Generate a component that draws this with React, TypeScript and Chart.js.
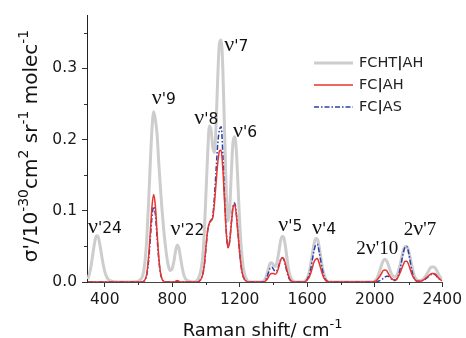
import React, { useEffect, useRef } from "react";
import { Chart, registerables } from "chart.js";

Chart.register(...registerables);

// Raman shift grid (cm-1)
const ramanShift = [
  300, 310, 320, 330, 340, 350, 360, 370, 380, 390, 400, 410, 420, 430, 440,
  480, 520, 560, 600,
  610, 620, 630, 640, 650, 660, 670, 680, 690, 700, 710, 720, 730, 740, 750, 760, 770, 780, 790, 800, 810, 820, 830, 840, 850, 860, 870, 880, 890, 900,
  920, 940,
  950, 960, 970, 980, 990, 1000, 1010, 1020, 1030, 1040, 1050, 1060, 1070, 1080, 1090, 1100, 1110, 1120, 1130, 1140, 1150, 1160, 1170, 1180, 1190, 1200, 1210, 1220, 1230, 1240, 1250, 1260,
  1280, 1300, 1320,
  1330, 1340, 1350, 1360, 1370, 1380, 1390, 1400, 1410, 1420, 1430, 1440, 1450, 1460, 1470, 1480, 1490, 1500, 1510, 1520, 1530,
  1550, 1570,
  1580, 1590, 1600, 1610, 1620, 1630, 1640, 1650, 1660, 1670, 1680, 1690, 1700, 1710, 1720, 1730,
  1760, 1800, 1850, 1900, 1950, 1980,
  1990, 2000, 2010, 2020, 2030, 2040, 2050, 2060, 2070, 2080, 2090, 2100, 2110, 2120, 2130, 2140, 2150, 2160, 2170, 2180,
  2190, 2200, 2210, 2220, 2230, 2240, 2250, 2260, 2270, 2280, 2290, 2300, 2310, 2320, 2330, 2340, 2350, 2360, 2370, 2380, 2390, 2400,
];

// FCHT|AH
const fchtAH = [
  0.004, 0.012, 0.024, 0.040, 0.055, 0.065, 0.064, 0.054, 0.040, 0.026, 0.015, 0.008, 0.004, 0.002, 0.001,
  0, 0, 0, 0.001,
  0.003, 0.006, 0.014, 0.032, 0.065, 0.112, 0.167, 0.215, 0.239, 0.228, 0.208, 0.168, 0.132, 0.100, 0.072, 0.050, 0.032, 0.020, 0.016, 0.019, 0.029, 0.044, 0.052, 0.047, 0.033, 0.019, 0.009, 0.004, 0.002, 0.001,
  0, 0.001,
  0.003, 0.008, 0.017, 0.034, 0.070, 0.125, 0.180, 0.219, 0.214, 0.190, 0.182, 0.222, 0.290, 0.336, 0.340, 0.298, 0.212, 0.128, 0.086, 0.100, 0.152, 0.196, 0.204, 0.184, 0.134, 0.082, 0.045, 0.022, 0.010, 0.004, 0.001, 0,
  0, 0, 0,
  0, 0.001, 0.004, 0.010, 0.019, 0.026, 0.027, 0.024, 0.022, 0.027, 0.040, 0.055, 0.064, 0.063, 0.051, 0.033, 0.017, 0.007, 0.003, 0.001, 0,
  0, 0,
  0, 0.002, 0.005, 0.012, 0.024, 0.039, 0.053, 0.061, 0.060, 0.050, 0.035, 0.020, 0.010, 0.004, 0.001, 0,
  0, 0, 0, 0, 0, 0,
  0, 0.002, 0.004, 0.009, 0.016, 0.024, 0.030, 0.032, 0.030, 0.024, 0.017, 0.011, 0.008, 0.007, 0.009, 0.015, 0.024, 0.035, 0.045, 0.050,
  0.050, 0.044, 0.034, 0.022, 0.012, 0.006, 0.003, 0.002, 0.002, 0.003, 0.005, 0.008, 0.012, 0.016, 0.020, 0.021, 0.021, 0.019, 0.015, 0.010, 0.006, 0.004,
];

// FC|AH
const fcAH = [
  0, 0, 0, 0, 0, 0, 0, 0, 0, 0, 0, 0, 0, 0, 0,
  0, 0, 0, 0,
  0, 0, 0.001, 0.004, 0.013, 0.036, 0.070, 0.106, 0.123, 0.107, 0.070, 0.036, 0.014, 0.004, 0.001, 0, 0, 0, 0, 0, 0, 0.001, 0.002, 0.001, 0, 0, 0, 0, 0, 0,
  0, 0,
  0, 0.001, 0.004, 0.010, 0.024, 0.050, 0.073, 0.083, 0.086, 0.090, 0.110, 0.140, 0.168, 0.184, 0.185, 0.158, 0.113, 0.070, 0.048, 0.056, 0.081, 0.104, 0.109, 0.094, 0.067, 0.040, 0.019, 0.008, 0.003, 0.001, 0, 0,
  0, 0, 0,
  0, 0, 0.001, 0.003, 0.007, 0.011, 0.012, 0.012, 0.011, 0.013, 0.020, 0.029, 0.034, 0.033, 0.026, 0.016, 0.008, 0.003, 0.001, 0, 0,
  0, 0,
  0, 0.001, 0.003, 0.006, 0.012, 0.020, 0.028, 0.032, 0.033, 0.027, 0.019, 0.011, 0.005, 0.002, 0.001, 0,
  0, 0, 0, 0, 0, 0,
  0, 0.001, 0.002, 0.005, 0.008, 0.012, 0.016, 0.017, 0.016, 0.012, 0.008, 0.005, 0.003, 0.003, 0.004, 0.008, 0.013, 0.019, 0.025, 0.029,
  0.029, 0.025, 0.018, 0.011, 0.006, 0.003, 0.001, 0.001, 0.001, 0.002, 0.003, 0.005, 0.007, 0.009, 0.011, 0.012, 0.012, 0.011, 0.008, 0.005, 0.003, 0.002,
];

// FC|AS
const fcAS = [
  0, 0, 0, 0, 0, 0, 0, 0, 0, 0, 0, 0, 0, 0, 0,
  0, 0, 0, 0,
  0, 0, 0.001, 0.003, 0.011, 0.030, 0.060, 0.092, 0.106, 0.095, 0.063, 0.032, 0.012, 0.004, 0.001, 0, 0, 0, 0, 0, 0, 0, 0.001, 0, 0, 0, 0, 0, 0, 0,
  0, 0,
  0, 0.001, 0.004, 0.010, 0.023, 0.048, 0.072, 0.083, 0.087, 0.093, 0.120, 0.158, 0.195, 0.214, 0.218, 0.178, 0.120, 0.072, 0.049, 0.057, 0.083, 0.106, 0.111, 0.096, 0.068, 0.040, 0.019, 0.008, 0.003, 0.001, 0, 0,
  0, 0, 0,
  0, 0, 0.002, 0.006, 0.013, 0.019, 0.021, 0.018, 0.015, 0.016, 0.022, 0.030, 0.034, 0.032, 0.024, 0.014, 0.006, 0.002, 0.001, 0, 0,
  0, 0,
  0, 0.001, 0.004, 0.009, 0.018, 0.031, 0.044, 0.052, 0.053, 0.043, 0.030, 0.017, 0.008, 0.003, 0.001, 0,
  0, 0, 0, 0, 0, 0,
  0, 0, 0, 0.001, 0.002, 0.003, 0.005, 0.007, 0.008, 0.008, 0.006, 0.004, 0.002, 0.002, 0.004, 0.009, 0.018, 0.030, 0.042, 0.049,
  0.050, 0.042, 0.029, 0.016, 0.007, 0.003, 0.001, 0.001, 0.001, 0.002, 0.003, 0.004, 0.006, 0.008, 0.010, 0.011, 0.011, 0.010, 0.007, 0.005, 0.003, 0.002,
];

const seriesNames = ["FCHT|AH", "FC|AH", "FC|AS"];
const xTickValues = [400, 800, 1200, 1600, 2000, 2400];
const xMinorTicks = [600, 1000, 1400, 1800, 2200];
const yTickValues = [0, 0.1, 0.2, 0.3];
const yMinorTicks = [0.05, 0.15, 0.25, 0.35];

// Peak annotations: prefix, suffix, left x (cm-1), baseline y, serif suffix
const peakPrefix = ["", "", "", "", "", "", "", "", "2", "2"];
const peakSuffix = ["'24", "'9", "'22", "'8", "'7", "'6", "'5", "'4", "'10", "'7"];
const peakX = [301, 679, 790, 931, 1108, 1160, 1428, 1628, 1891, 2172];
const peakY = [0.069, 0.25, 0.066, 0.222, 0.324, 0.204, 0.072, 0.067, 0.04, 0.066];

const SANS = '"DejaVu Sans", sans-serif';
const SERIF = '"Liberation Serif", serif';

const overlayPlugin = {
  id: "overlay",
  afterDraw(chart: any) {
    const { ctx, chartArea, scales } = chart;
    const xs = scales.x;
    const ys = scales.y;
    ctx.save();

    // minor ticks
    ctx.strokeStyle = "#333";
    ctx.lineWidth = 1;
    xMinorTicks.forEach((v) => {
      const px = Math.round(xs.getPixelForValue(v)) + 0.5;
      ctx.beginPath();
      ctx.moveTo(px, chartArea.bottom);
      ctx.lineTo(px, chartArea.bottom + 3);
      ctx.stroke();
    });
    yMinorTicks.forEach((v) => {
      const py = Math.round(ys.getPixelForValue(v)) + 0.5;
      ctx.beginPath();
      ctx.moveTo(chartArea.left, py);
      ctx.lineTo(chartArea.left - 3, py);
      ctx.stroke();
    });

    // peak labels
    ctx.fillStyle = "#111";
    ctx.textAlign = "left";
    ctx.textBaseline = "alphabetic";
    peakX.forEach((xv, i) => {
      let cx = xs.getPixelForValue(xv);
      const by = ys.getPixelForValue(peakY[i]);
      const serif = peakPrefix[i] !== "";
      if (serif) {
        ctx.font = `19px ${SERIF}`;
        ctx.fillText(peakPrefix[i], cx, by);
        cx += ctx.measureText(peakPrefix[i]).width;
      }
      ctx.font = `22px ${SERIF}`;
      ctx.fillText("ν", cx, by);
      cx += ctx.measureText("ν").width;
      ctx.font = serif ? `19px ${SERIF}` : `15.5px ${SANS}`;
      ctx.fillText(peakSuffix[i], cx, by);
    });

    // legend
    const ds = chart.data.datasets;
    ds.forEach((d: any, i: number) => {
      const ly = 63 + i * 22;
      ctx.save();
      ctx.strokeStyle = d.borderColor;
      ctx.lineWidth = d.borderWidth;
      ctx.setLineDash(d.borderDash || []);
      ctx.beginPath();
      ctx.moveTo(314, ly);
      ctx.lineTo(353, ly);
      ctx.stroke();
      ctx.restore();
      const parts = String(d.label).split("|");
      let tx = 359;
      ctx.fillStyle = "#222";
      ctx.textBaseline = "middle";
      ctx.font = `14.5px ${SANS}`;
      ctx.fillText(parts[0], tx, ly);
      tx += ctx.measureText(parts[0]).width;
      ctx.font = `bold 14.5px ${SANS}`;
      ctx.fillText("|", tx, ly);
      tx += ctx.measureText("|").width;
      ctx.font = `14.5px ${SANS}`;
      ctx.fillText(parts[1], tx, ly);
    });

    // x title
    ctx.fillStyle = "#111";
    ctx.textBaseline = "alphabetic";
    const xMain = "Raman shift/ cm";
    const xSup = "-1";
    ctx.font = `18px ${SANS}`;
    const w1 = ctx.measureText(xMain).width;
    ctx.font = `13px ${SANS}`;
    const w2 = ctx.measureText(xSup).width;
    const xc = (chartArea.left + chartArea.right) / 2 - 2;
    let sx = xc - (w1 + w2) / 2;
    ctx.font = `18px ${SANS}`;
    ctx.fillText(xMain, sx, 336);
    ctx.font = `13px ${SANS}`;
    ctx.fillText(xSup, sx + w1, 328);

    // y title
    const yParts: [string, boolean][] = [
      ["σ'/10", false], ["-30", true], ["cm", false], ["2", true],
      [" sr", false], ["-1", true], [" molec", false], ["-1", true],
    ];
    const mainFont = `20px ${SANS}`;
    const supFont = `14px ${SANS}`;
    let total = 0;
    yParts.forEach(([t, sup]) => {
      ctx.font = sup ? supFont : mainFont;
      total += ctx.measureText(t).width;
    });
    ctx.translate(37, 146);
    ctx.rotate(-Math.PI / 2);
    let px = -total / 2;
    yParts.forEach(([t, sup]) => {
      ctx.font = sup ? supFont : mainFont;
      ctx.fillText(t, px, sup ? -9 : 0);
      px += ctx.measureText(t).width;
    });

    ctx.restore();
  },
};

export default function App() {
  const ref = useRef<HTMLCanvasElement>(null);

  useEffect(() => {
    if (!ref.current) return;
    const mk = (arr: number[]) => ramanShift.map((x, i) => ({ x, y: arr[i] }));
    const chart = new Chart(ref.current, {
      type: "line",
      data: {
        datasets: [
          {
            label: seriesNames[0],
            data: mk(fchtAH),
            borderColor: "#cdcdcd",
            borderWidth: 3,
            order: 3,
          },
          {
            label: seriesNames[1],
            data: mk(fcAH),
            borderColor: "#e8342c",
            borderWidth: 1.5,
            order: 1,
          },
          {
            label: seriesNames[2],
            data: mk(fcAS),
            borderColor: "#2c3fae",
            borderWidth: 1.5,
            borderDash: [5, 2, 1.5, 2],
            order: 2,
          },
        ] as any,
      },
      options: {
        responsive: false,
        animation: false,
        events: [],
        layout: { padding: { left: 0, right: 19, top: 15, bottom: 0 }, autoPadding: false } as any,
        elements: {
          point: { radius: 0 },
          line: { cubicInterpolationMode: "monotone", borderJoinStyle: "round", fill: false },
        },
        plugins: { legend: { display: false }, tooltip: { enabled: false } },
        scales: {
          x: {
            type: "linear",
            min: 295,
            max: 2400,
            afterBuildTicks: (axis: any) => {
              axis.ticks = xTickValues.map((v) => ({ value: v }));
            },
            afterFit: (s: any) => {
              s.height = 56;
            },
            grid: { drawOnChartArea: false, drawTicks: true, tickLength: 5, tickColor: "#333" },
            border: { display: true, color: "#444", width: 1 },
            ticks: {
              font: { family: SANS, size: 15.5 },
              color: "#1a1a1a",
              padding: 4,
              maxRotation: 0,
              autoSkip: false,
              callback: (v: any) => String(v),
            },
          },
          y: {
            type: "linear",
            min: 0,
            max: 0.375,
            afterBuildTicks: (axis: any) => {
              axis.ticks = yTickValues.map((v) => ({ value: v }));
            },
            afterFit: (s: any) => {
              s.width = 87;
            },
            grid: { drawOnChartArea: false, drawTicks: true, tickLength: 5, tickColor: "#333" },
            border: { display: true, color: "#222", width: 1 },
            ticks: {
              font: { family: SANS, size: 15.5 },
              color: "#1a1a1a",
              padding: 5,
              autoSkip: false,
              callback: (v: any) => Number(v).toFixed(1),
            },
          },
        },
      } as any,
      plugins: [overlayPlugin],
    });
    return () => chart.destroy();
  }, []);

  return (
    <div style={{ position: "fixed", left: 0, top: 0, width: 466, height: 338, background: "#fff" }}>
      <canvas ref={ref} width={466} height={338} style={{ display: "block", width: 466, height: 338 }} />
    </div>
  );
}
